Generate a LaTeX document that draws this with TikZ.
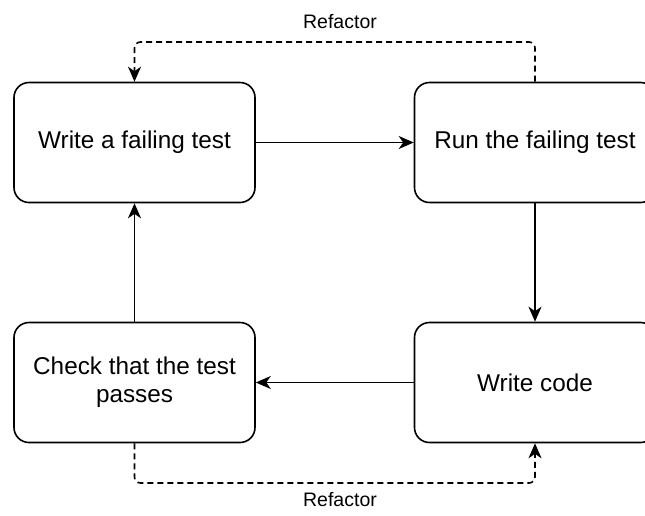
\documentclass[tikz,border=0pt]{standalone}
\usepackage{fontspec}
\setmainfont{Liberation Sans}
\usetikzlibrary{arrows.meta}
\tikzset{
  stepbox/.style={draw, line width=1.6pt, rounded corners=15pt, minimum width=241pt, minimum height=120pt, align=center, inner sep=0pt, font=\fontsize{24.3}{28}\selectfont},
  flow/.style={line width=1.6pt, -{Stealth[length=15pt, width=13pt, inset=4.5pt]}},
  loopback/.style={flow, dash pattern=on 6pt off 4pt, rounded corners=6pt},
  lbl/.style={font=\fontsize{19.5}{22}\selectfont, inner sep=0pt}
}
\begin{document}
\begin{tikzpicture}[x=1pt,y=-1pt]
\useasboundingbox (0,0) rectangle (645,515);
\clip (0,0) rectangle (645,515);
\node[stepbox] (tl) at (134.5,142.5) {Write a failing test};
\node[stepbox] (tr) at (535,142.5) {Run the failing test};
\node[stepbox] (bl) at (134.5,382.5) {Check that the test\\passes};
\node[stepbox] (br) at (535,382.5) {Write code};
\draw[flow] (tl.east) -- (tr.west);
\draw[flow] (tr.south) -- (br.north);
\draw[flow] (br.west) -- (bl.east);
\draw[flow] (bl.north) -- (tl.north |- tl.south);
\coordinate (ta) at (535,42);
\coordinate (tb) at (134.5,42);
\coordinate (ba) at (134.5,483);
\coordinate (bb) at (535,483);
\draw[loopback] (tr.north) -- (ta) -- (tb) -- (tl.north);
\draw[loopback] (bl.south) -- (ba) -- (bb) -- (br.south);
\node[lbl] (r1) at (340,22) {Refactor};
\node[lbl] (r2) at (340,500) {Refactor};
\end{tikzpicture}
\end{document}
